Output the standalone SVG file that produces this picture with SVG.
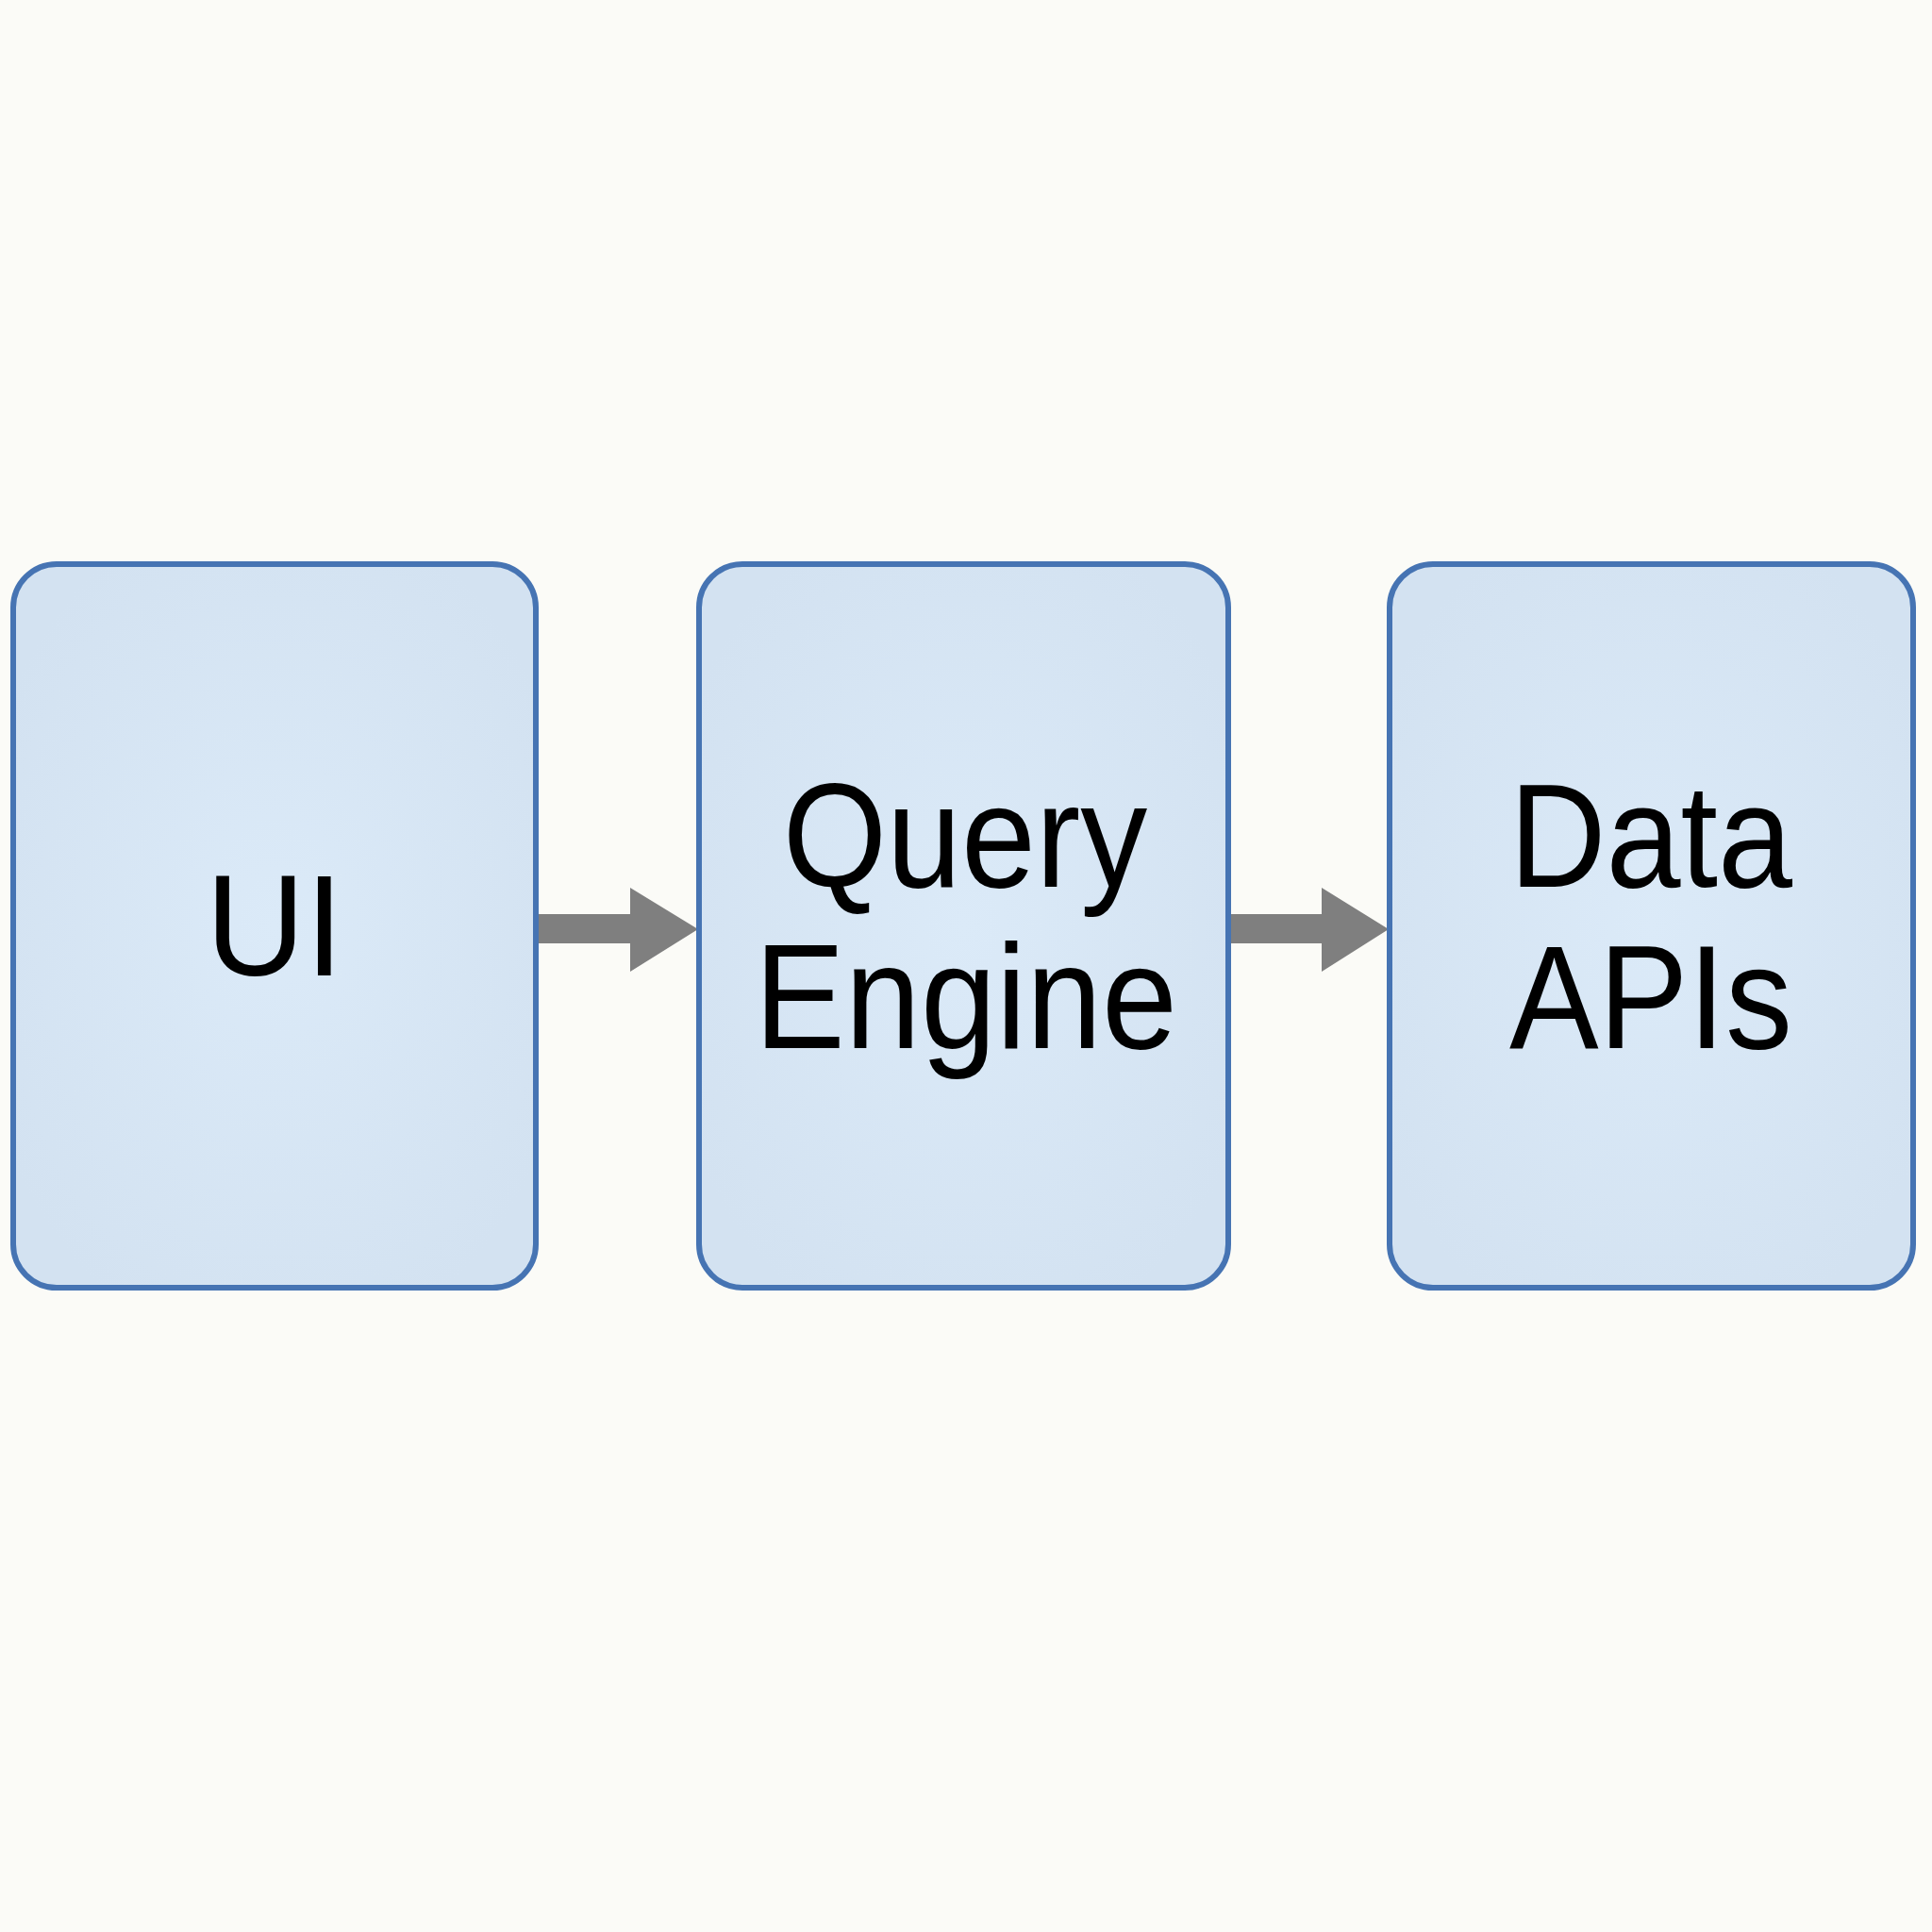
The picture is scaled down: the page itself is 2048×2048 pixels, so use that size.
<svg xmlns="http://www.w3.org/2000/svg" width="2048" height="2048" viewBox="0 0 2048 2048">
  <defs>
    <radialGradient id="boxFill" cx="50%" cy="50%" r="60%">
      <stop offset="0%" stop-color="#dbeaf8"/>
      <stop offset="100%" stop-color="#d3e2f1"/>
    </radialGradient>
  </defs>
  <style>
    .box { fill: url(#boxFill); stroke: #4674b3; stroke-width: 6; }
    .label { font-family: "Liberation Sans", Arial, sans-serif; font-size: 142px; fill: #000000; text-anchor: middle; }
    .arrow { fill: #7f7f7f; }
  </style>
  <rect x="0" y="0" width="2048" height="2048" fill="#fbfbf7"/>
  <g id="connectors">
    <polygon class="arrow" points="567,969 668,969 668,941 740,985 668,1030 668,1000 567,1000"/>
    <polygon class="arrow" points="1302,969 1401,969 1401,941 1472,985 1401,1030 1401,1000 1302,1000"/>
  </g>
  <g id="node-ui">
    <rect class="box" x="14" y="598" width="554" height="767" rx="46" ry="46"/>
    <text class="label" transform="translate(291,1034) scale(1,1.04)" x="0" y="0" style="font-size:146px">UI</text>
  </g>
  <g id="node-query-engine">
    <rect class="box" x="741" y="598" width="561" height="767" rx="46" ry="46"/>
    <text class="label" transform="translate(1023,940) scale(1,1.1)" x="0" y="0">Query</text>
    <text class="label" transform="translate(1024,1111) scale(1,1.1)" x="0" y="0" style="font-size:144px">Engine</text>
  </g>
  <g id="node-data-apis">
    <rect class="box" x="1473" y="598" width="555" height="767" rx="46" ry="46"/>
    <text class="label" transform="translate(1750,940) scale(1,1.1)" x="0" y="0">Data</text>
    <text class="label" transform="translate(1750,1111) scale(1,1.1)" x="0" y="0">APIs</text>
  </g>
</svg>
